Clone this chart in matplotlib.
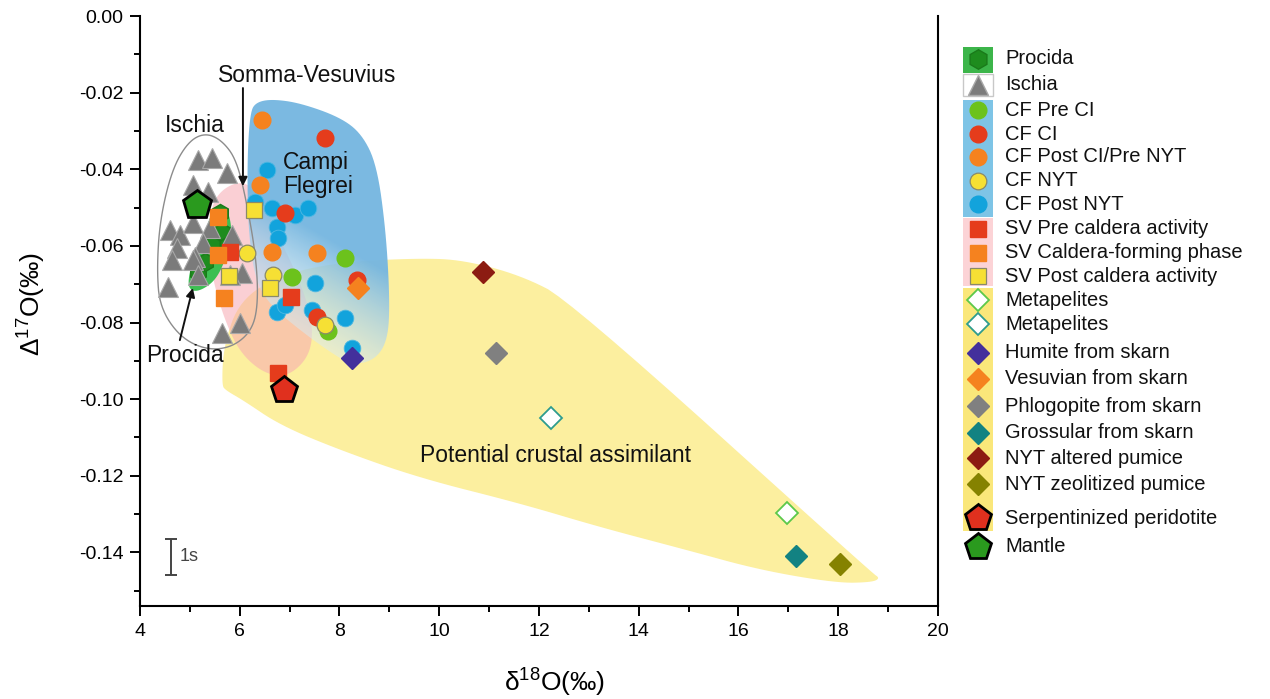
import numpy as np
import matplotlib
import matplotlib.pyplot as plt
from matplotlib.patches import Polygon, Rectangle
from matplotlib.ticker import MultipleLocator, FormatStrFormatter

matplotlib.use('Agg')

plt.rcParams['font.family'] = ['Liberation Sans', 'DejaVu Sans']
plt.rcParams['mathtext.default'] = 'regular'

# ---- sample data (d18O, D17O) ----
ischia_x = [5.16, 5.44, 5.74, 5.06, 5.36, 4.60, 4.80, 5.06, 5.40, 5.84, 4.74,
            5.26, 5.10, 4.64, 5.06, 5.16, 4.56, 6.05, 5.80, 6.00, 5.64]
ischia_y = [-0.0376, -0.0371, -0.0410, -0.0441, -0.0460, -0.0559, -0.0572,
            -0.0540, -0.0554, -0.0572, -0.0606, -0.0593, -0.0629, -0.0637,
            -0.0637, -0.0676, -0.0708, -0.0671, -0.0676, -0.0802, -0.0828]

procida_x = [5.60, 5.64, 5.44, 5.16, 5.30, 5.76]
procida_y = [-0.0514, -0.0564, -0.0598, -0.0668, -0.0642, -0.0598]

cf_pre_ci_x = [8.11, 7.05, 7.77]
cf_pre_ci_y = [-0.0632, -0.0681, -0.0822]
cf_ci_x = [7.71, 6.91, 8.35, 7.55]
cf_ci_y = [-0.0319, -0.0514, -0.0689, -0.0786]
cf_post_ci_x = [6.45, 6.41, 6.65, 7.55]
cf_post_ci_y = [-0.0272, -0.0441, -0.0616, -0.0619]
cf_nyt_x = [6.15, 6.67, 7.71]
cf_nyt_y = [-0.0619, -0.0676, -0.0807]
cf_post_nyt_x = [6.55, 6.31, 6.65, 7.11, 7.37, 6.75, 6.77, 7.51, 6.75, 6.91,
                 7.45, 8.11, 8.25]
cf_post_nyt_y = [-0.0402, -0.0486, -0.0501, -0.0520, -0.0501, -0.0551, -0.0580,
                 -0.0697, -0.0773, -0.0755, -0.0768, -0.0789, -0.0867]

sv_pre_x = [5.80, 7.03, 6.77]
sv_pre_y = [-0.0616, -0.0734, -0.0932]
sv_cald_x = [5.56, 5.56, 5.68]
sv_cald_y = [-0.0525, -0.0624, -0.0736]
sv_post_x = [6.29, 5.78, 6.61]
sv_post_y = [-0.0507, -0.0679, -0.0710]

metapel1 = (16.97, -0.1298)
metapel2 = (12.24, -0.1050)
humite = (8.25, -0.0893)
vesuvian = (8.37, -0.0710)
phlogopite = (11.14, -0.0880)
grossular = (17.15, -0.1410)
nyt_altered = (10.88, -0.0668)
nyt_zeolit = (18.04, -0.1431)
serpentinite = (6.89, -0.0977)
mantle = (5.14, -0.0493)

# ---- field outlines ----
yellow_field = [(5.64, -0.0963), (5.68, -0.0859), (6.00, -0.0742), (6.81, -0.0676),
                (8.01, -0.0642), (9.61, -0.0632), (10.48, -0.0637), (11.62, -0.0676),
                (12.62, -0.0742), (18.68, -0.1454), (18.84, -0.1467), (18.68, -0.1478),
                (17.97, -0.1480), (16.43, -0.1446), (14.97, -0.1394), (13.22, -0.1334),
                (11.62, -0.1272), (9.61, -0.1206), (8.01, -0.1133), (6.81, -0.1068),
                (6.07, -0.1003), (5.72, -0.0977)]
blue_field = [(6.21, -0.0251), (6.33, -0.0225), (6.65, -0.0217), (7.21, -0.0227),
              (8.01, -0.0264), (8.45, -0.0308), (8.75, -0.0389), (8.93, -0.0559),
              (9.01, -0.0742), (8.97, -0.0846), (8.71, -0.0898), (8.25, -0.0911),
              (7.81, -0.0877), (7.21, -0.0820), (6.61, -0.0755), (6.31, -0.0689),
              (6.17, -0.0559), (6.15, -0.0376)]
pink_field = [(5.64, -0.0454), (5.96, -0.0433), (6.25, -0.0444), (6.45, -0.0480),
              (6.71, -0.0559), (7.11, -0.0663), (7.41, -0.0768), (7.47, -0.0846),
              (7.31, -0.0903), (6.91, -0.0943), (6.45, -0.0930), (6.00, -0.0877),
              (5.70, -0.0794), (5.46, -0.0689), (5.36, -0.0585), (5.44, -0.0493)]
procida_field = [(5.60, -0.0499), (5.76, -0.0507), (5.84, -0.0551), (5.80, -0.0593),
                 (5.66, -0.0655), (5.46, -0.0697), (5.14, -0.0721), (4.96, -0.0710),
                 (5.00, -0.0663), (5.16, -0.0603), (5.34, -0.0551), (5.44, -0.0512)]
ischia_outline = [(5.30, -0.0305), (5.64, -0.0324), (5.94, -0.0376), (6.15, -0.0493),
                  (6.33, -0.0632), (6.37, -0.0749), (6.25, -0.0820), (5.86, -0.0864),
                  (5.34, -0.0872), (4.80, -0.0838), (4.40, -0.0760), (4.34, -0.0663),
                  (4.40, -0.0533), (4.64, -0.0402), (4.96, -0.0329)]


def smooth(pts, n=3):
    # chaikin corner cutting, in pixel-like scaled space
    p = np.array(pts, dtype=float)
    p[:, 1] *= 77.0
    for _ in range(n):
        q = np.roll(p, -1, axis=0)
        p = np.vstack([np.column_stack([0.75 * p + 0.25 * q]),
                       np.column_stack([0.25 * p + 0.75 * q])])
        p = p.reshape(2, -1, 2).transpose(1, 0, 2).reshape(-1, 2)
    p[:, 1] /= 77.0
    return p


fig = plt.figure(figsize=(12.7, 6.99), dpi=100)
ax = fig.add_axes([0.1102, 0.1330, 0.6283, 0.8441])

ax.add_patch(Polygon(smooth(yellow_field), closed=True, fc='#fcef9f', ec='none', zorder=1))
ax.add_patch(Polygon(smooth(pink_field), closed=True, fc='#f7a9b2', ec='none', alpha=0.55, zorder=1.3))

# blue field with a gradient toward the bottom-left
blue_patch = Polygon(smooth(blue_field), closed=True, fc='none', ec='none', zorder=1.4)
ax.add_patch(blue_patch)
gx = np.linspace(6.0, 9.2, 200)
gy = np.linspace(-0.095, -0.02, 200)
GX, GY = np.meshgrid(gx, gy)
t = np.clip((-GY - 0.060) / 0.030 - (GX - 8.0) / 4.0, 0, 1)
c0 = np.array([0.47, 0.72, 0.88])
c1 = np.array([0.87, 0.93, 0.95])
rgba = np.zeros(GX.shape + (4,))
rgba[..., :3] = c0 * (1 - t[..., None]) + c1 * t[..., None]
rgba[..., 3] = 0.97 - 0.45 * t
im = ax.imshow(rgba, extent=[6.0, 9.2, -0.095, -0.02], origin='lower',
               aspect='auto', zorder=1.5, interpolation='bilinear')
im.set_clip_path(blue_patch)

ax.add_patch(Polygon(smooth(procida_field), closed=True, fc='#3cbf52', ec='none', zorder=1.6))
ax.add_patch(Polygon(smooth(ischia_outline), closed=True, fc='none', ec='#8c8c8c', lw=1.0, zorder=1.7))

circ = dict(linestyle='none', marker='o', markersize=12)
sq = dict(linestyle='none', marker='s', markersize=12)
dia = dict(linestyle='none', marker='D', markersize=11)

ax.plot(procida_x, procida_y, marker='h', linestyle='none', markersize=13,
        color='#1e8c1e', mec='#1a7a1a', zorder=2.5)
ax.plot(cf_post_nyt_x, cf_post_nyt_y, color='#12a3dc', mec='#4fb8e2', mew=0.6, zorder=3, **circ)
ax.plot(cf_ci_x, cf_ci_y, color='#e53c1c', mec='#e53c1c', zorder=3.1, **circ)
ax.plot(cf_post_ci_x, cf_post_ci_y, color='#f5821f', mec='#f5821f', zorder=3.1, **circ)
ax.plot(cf_pre_ci_x, cf_pre_ci_y, color='#6cc21c', mec='#6cc21c', zorder=3.2, **circ)
ax.plot(cf_nyt_x, cf_nyt_y, color='#f6e034', mec='#8a8a6a', mew=0.9, zorder=3.3, **circ)
ax.plot(sv_pre_x, sv_pre_y, color='#e53c1c', mec='#e53c1c', zorder=3.5, **sq)
ax.plot(sv_cald_x, sv_cald_y, color='#f5821f', mec='#f5821f', zorder=3.5, **sq)
ax.plot(sv_post_x, sv_post_y, color='#f6e034', mec='#8a8a6a', mew=0.9, zorder=3.6, **sq)
ax.plot(ischia_x, ischia_y, marker='^', linestyle='none', markersize=15,
        color='#7b7b7b', mec='#a8a8a8', mew=0.8, zorder=3.4)

ax.plot(*metapel1, mfc='white', mec='#5cc84a', mew=1.3, zorder=4, **dia)
ax.plot(*metapel2, mfc='white', mec='#2e9c8e', mew=1.3, zorder=4, **dia)
ax.plot(*humite, color='#43309c', zorder=4, **dia)
ax.plot(*vesuvian, color='#f5821f', zorder=4, **dia)
ax.plot(*phlogopite, color='#808080', zorder=4, **dia)
ax.plot(*grossular, color='#128282', zorder=4, **dia)
ax.plot(*nyt_altered, color='#8c1c12', zorder=4, **dia)
ax.plot(*nyt_zeolit, color='#858200', zorder=4, **dia)
ax.plot(*serpentinite, marker='p', linestyle='none', markersize=20, color='#e0301e',
        mec='black', mew=2.0, zorder=5)
ax.plot(*mantle, marker='p', linestyle='none', markersize=21, color='#2a9a1e',
        mec='black', mew=2.0, zorder=5)

# 1s error bar
ax.errorbar([4.62], [-0.1412], yerr=[0.0048], color='#444444', lw=1.4, capsize=4,
            capthick=1.4, zorder=5)
ax.text(4.80, -0.1412, '1s', fontsize=13, color='#444444', va='center', ha='left')

# labels and arrows
lab = dict(fontsize=16.5, color='#111111', zorder=6)
ax.text(7.36, -0.0154, 'Somma-Vesuvius', ha='center', va='center', **lab)
ax.text(5.10, -0.0285, 'Ischia', ha='center', va='center', **lab)
ax.text(6.87, -0.0413, 'Campi\nFlegrei', ha='left', va='center', linespacing=1.05, **lab)
ax.text(4.90, -0.0885, 'Procida', ha='center', va='center', **lab)
ax.text(9.61, -0.1146, 'Potential crustal assimilant', ha='left', va='center', **lab)
arw = dict(arrowstyle='-|>', color='#111111', lw=1.4, mutation_scale=13, shrinkA=0, shrinkB=0)
ax.annotate('', xy=(6.065, -0.0444), xytext=(6.065, -0.0188), arrowprops=arw, zorder=6)
ax.annotate('', xy=(5.06, -0.0710), xytext=(4.80, -0.0846), arrowprops=arw, zorder=6)

ax.set_xlim(4, 20)
ax.set_ylim(-0.154, 0)
ax.xaxis.set_major_locator(MultipleLocator(2))
ax.xaxis.set_minor_locator(MultipleLocator(1))
ax.yaxis.set_major_locator(MultipleLocator(0.02))
ax.yaxis.set_minor_locator(MultipleLocator(0.01))
ax.yaxis.set_major_formatter(FormatStrFormatter('%.2f'))
ax.tick_params(which='major', direction='out', length=7, width=1.4, labelsize=14, pad=5)
ax.tick_params(which='minor', direction='out', length=4, width=1.4)
ax.spines['top'].set_visible(False)
for s in ['left', 'bottom', 'right']:
    ax.spines[s].set_linewidth(1.5)
ax.yaxis.set_ticks_position('left')

fig.text(555 / 1270, 1 - 683 / 699, r'$\delta^{18}$O(‰)', fontsize=19, ha='center', va='center')
fig.text(32 / 1270, 1 - 304 / 699, r'$\Delta^{17}$O(‰)', fontsize=19, ha='center', va='center',
         rotation=90)

# ---- legend drawn in a pixel-space overlay ----
lax = fig.add_axes([0, 0, 1, 1], zorder=5)
lax.set_xlim(0, 1270)
lax.set_ylim(699, 0)
lax.axis('off')

lax.add_patch(Rectangle((963, 47), 30, 26, fc='#3cb54a', ec='none'))
lax.add_patch(Rectangle((963, 74), 30, 22, fc='white', ec='#c8c8c8', lw=1))
lax.add_patch(Rectangle((963, 100), 30, 117, fc='#7ec4e6', ec='none'))
lax.add_patch(Rectangle((963, 218), 30, 68, fc='#fcd3d6', ec='none'))
lax.add_patch(Rectangle((963, 288), 30, 243, fc='#fae77a', ec='none'))

leg_labels = ['Procida', 'Ischia', 'CF Pre CI', 'CF CI', 'CF Post CI/Pre NYT', 'CF NYT',
              'CF Post NYT', 'SV Pre caldera activity', 'SV Caldera-forming phase',
              'SV Post caldera activity', 'Metapelites', 'Metapelites', 'Humite from skarn',
              'Vesuvian from skarn', 'Phlogopite from skarn', 'Grossular from skarn',
              'NYT altered pumice', 'NYT zeolitized pumice', 'Serpentinized peridotite', 'Mantle']
leg_rows = [59, 85, 110, 134, 157, 181, 204, 229, 253, 276, 300, 324, 353, 379, 406, 433,
            458, 484, 518, 547]
leg_styles = [
    dict(marker='h', markersize=14, color='#1e8c1e', mec='#1a7a1a'),
    dict(marker='^', markersize=15, color='#7b7b7b', mec='#a8a8a8'),
    dict(marker='o', markersize=12, color='#6cc21c'),
    dict(marker='o', markersize=12, color='#e53c1c'),
    dict(marker='o', markersize=12, color='#f5821f'),
    dict(marker='o', markersize=12, color='#f6e034', mec='#8a8a6a', mew=0.9),
    dict(marker='o', markersize=12, color='#12a3dc'),
    dict(marker='s', markersize=11, color='#e53c1c'),
    dict(marker='s', markersize=11, color='#f5821f'),
    dict(marker='s', markersize=11, color='#f6e034', mec='#8a8a6a', mew=0.9),
    dict(marker='D', markersize=11, mfc='white', mec='#5cc84a', mew=1.3),
    dict(marker='D', markersize=11, mfc='white', mec='#2e9c8e', mew=1.3),
    dict(marker='D', markersize=11, color='#43309c'),
    dict(marker='D', markersize=11, color='#f5821f'),
    dict(marker='D', markersize=11, color='#808080'),
    dict(marker='D', markersize=11, color='#128282'),
    dict(marker='D', markersize=11, color='#8c1c12'),
    dict(marker='D', markersize=11, color='#858200'),
    dict(marker='p', markersize=20, color='#e0301e', mec='black', mew=2.0),
    dict(marker='p', markersize=20, color='#2a9a1e', mec='black', mew=2.0),
]
for label, row, style in zip(leg_labels, leg_rows, leg_styles):
    lax.plot([978], [row], linestyle='none', **style)
    lax.text(1005, row, label, fontsize=14.5, va='center', ha='left', color='#111111')

fig.savefig('out.png', dpi=100)
